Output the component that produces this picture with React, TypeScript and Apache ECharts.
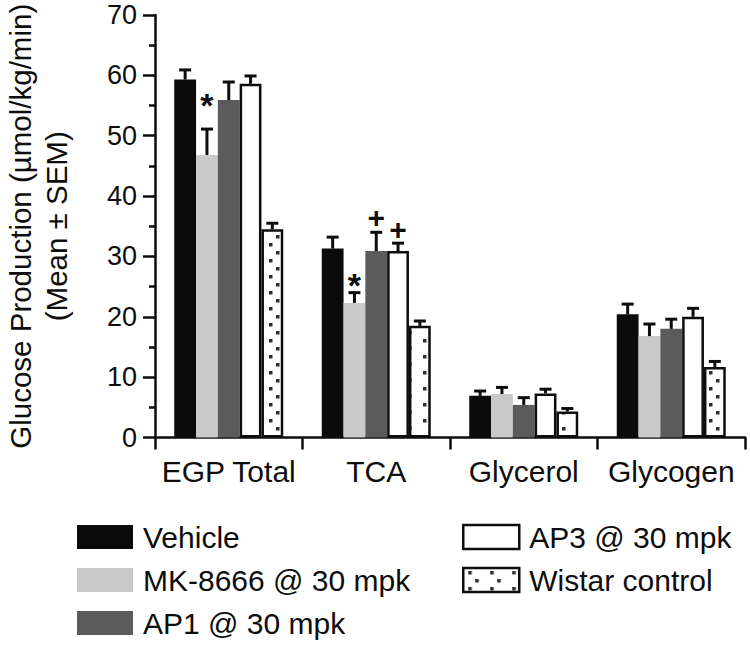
import React, { useEffect, useRef } from "react";
import * as echarts from "echarts";

const categories = ["EGP Total", "TCA", "Glycerol", "Glycogen"];
const seriesNames = ["Vehicle", "MK-8666 @ 30 mpk", "AP1 @ 30 mpk", "AP3 @ 30 mpk", "Wistar control"];

const vehicleMean = [59.3, 31.3, 6.9, 20.4];
const vehicleSem = [1.6, 1.9, 0.8, 1.7];
const mkMean = [46.8, 22.3, 7.2, 16.8];
const mkSem = [4.3, 1.7, 1.1, 2.0];
const ap1Mean = [55.9, 30.9, 5.4, 18.0];
const ap1Sem = [3.0, 3.1, 1.2, 1.6];
const ap3Mean = [58.6, 30.9, 7.3, 20.0];
const ap3Sem = [1.3, 1.3, 0.7, 1.4];
const wistarMean = [34.5, 18.5, 4.3, 11.7];
const wistarSem = [1.0, 0.8, 0.5, 0.9];

const yMin = 0;
const yMax = 70;
const yInterval = 10;

// significance marks: category index, series index, value level, symbol
const annCategory = [0, 1, 1, 1];
const annSeries = [1, 1, 2, 3];
const annLevel = [56.3, 26.5, 36.4, 34.5];
const annMark = ["*", "*", "+", "+"];

const FONT = "Liberation Sans, Arial, sans-serif";
const BAR_W = 21.8;
const INK = "#0d0d0d";

function makeDotPattern() {
  const c = document.createElement("canvas");
  c.width = 22;
  c.height = 16;
  const ctx = c.getContext("2d")!;
  ctx.fillStyle = "#ffffff";
  ctx.fillRect(0, 0, 22, 16);
  ctx.fillStyle = "#2e2e2e";
  ctx.fillRect(5, 3, 3.5, 3.5);
  ctx.fillRect(12, 11, 3.5, 3.5);
  return c;
}

export default function App() {
  const ref = useRef<HTMLDivElement>(null);
  useEffect(() => {
    if (!ref.current) return;
    const chart = echarts.init(ref.current, undefined, { renderer: "svg" });
    const dot = makeDotPattern();
    const patternFill: any = { image: dot, repeat: "repeat", imageWidth: 22, imageHeight: 16 };

    const means = [vehicleMean, mkMean, ap1Mean, ap3Mean, wistarMean];
    const sems = [vehicleSem, mkSem, ap1Sem, ap3Sem, wistarSem];
    const styles: any[] = [
      { color: "#0b0b0b" },
      { color: "#c9c9c9" },
      { color: "#5b5b5b" },
      { color: "#ffffff", borderColor: INK, borderWidth: 2.5 },
      { color: patternFill, borderColor: INK, borderWidth: 2.5 },
    ];

    const barSeries = seriesNames.map((name, k) => ({
      name,
      type: "bar",
      barWidth: BAR_W,
      barGap: "0%",
      data: means[k],
      itemStyle: styles[k],
      z: 2,
    }));

    const errSeries = seriesNames.map((name, k) => ({
      name: name + " SEM",
      type: "custom",
      z: 5,
      encode: { x: 0, y: 1 },
      data: categories.map((_, i) => [i, means[k][i], sems[k][i]]),
      renderItem: (params: any, api: any) => {
        const idx = api.value(0);
        const m = api.value(1);
        const e = api.value(2);
        const p0 = api.coord([idx, m]);
        const p1 = api.coord([idx, m + e]);
        const x = p0[0] + (k - 2) * BAR_W;
        return {
          type: "group",
          children: [
            { type: "line", shape: { x1: x, y1: p0[1], x2: x, y2: p1[1] }, style: { stroke: INK, lineWidth: 3 } },
            { type: "line", shape: { x1: x - 6, y1: p1[1], x2: x + 6, y2: p1[1] }, style: { stroke: INK, lineWidth: 3 } },
          ],
        };
      },
    }));

    const annSeriesObj = {
      name: "marks",
      type: "custom",
      z: 6,
      encode: { x: 0, y: 1 },
      data: annLevel.map((v, i) => [annCategory[i], v, annSeries[i]]),
      renderItem: (params: any, api: any) => {
        const p = api.coord([api.value(0), api.value(1)]);
        const x = p[0] + (api.value(2) - 2) * BAR_W;
        const mark = annMark[params.dataIndex];
        const star = mark === "*";
        return {
          type: "text",
          x,
          y: p[1] + (star ? 7 : 0),
          style: {
            text: mark,
            fontSize: star ? 34 : 30,
            fontFamily: FONT,
            fontWeight: "bold",
            align: "center",
            verticalAlign: "middle",
            fill: INK,
          },
        };
      },
    };

    const legendText = { fontSize: 30, fontFamily: FONT, color: INK, padding: [0, 0, 0, 5] };
    const legendCommon = {
      orient: "vertical",
      icon: "rect",
      itemWidth: 56,
      itemHeight: 24,
      itemGap: 13,
      padding: 0,
      height: 200,
      selectedMode: false,
      textStyle: legendText,
    };

    chart.setOption({
      animation: false,
      backgroundColor: "#ffffff",
      textStyle: { fontFamily: FONT },
      grid: { left: 155, right: 5, top: 15, bottom: 645 - 437.5, outerBoundsMode: "none", containLabel: false },
      legend: [
        {
          ...legendCommon,
          left: 77,
          top: 522,
          data: seriesNames.slice(0, 3).map((n) => ({ name: n })),
        },
        {
          ...legendCommon,
          left: 462,
          top: 522,
          data: seriesNames.slice(3).map((n) => ({ name: n, itemStyle: { borderColor: INK, borderWidth: 2.5 } })),
        },
      ],
      xAxis: {
        type: "category",
        data: categories,
        axisLine: { lineStyle: { color: INK, width: 2.5 } },
        axisTick: { show: true, length: 12, lineStyle: { color: INK, width: 2.5 } },
        axisLabel: { fontSize: 30, color: INK, fontFamily: FONT, margin: 19, interval: 0 },
      },
      yAxis: {
        type: "value",
        min: yMin,
        max: yMax,
        interval: yInterval,
        name: "Glucose Production (µmol/kg/min)\n(Mean ± SEM)",
        nameLocation: "middle",
        nameRotate: 90,
        nameGap: 81,
        nameTextStyle: { fontSize: 29.5, lineHeight: 36, color: INK, fontFamily: FONT, align: "center" },
        splitLine: { show: false },
        axisLine: { show: true, lineStyle: { color: INK, width: 2.5 } },
        axisTick: { show: true, length: 12, lineStyle: { color: INK, width: 2.5 } },
        minorTick: { show: true, splitNumber: 2, length: 6, lineStyle: { color: INK, width: 2.5 } },
        axisLabel: { fontSize: 27, color: INK, fontFamily: FONT, margin: 18 },
      },
      series: [...barSeries, ...errSeries, annSeriesObj],
    });
    return () => chart.dispose();
  }, []);
  return <div ref={ref} style={{ position: "fixed", left: 0, top: 0, width: 750, height: 645, background: "#fff" }} />;
}
